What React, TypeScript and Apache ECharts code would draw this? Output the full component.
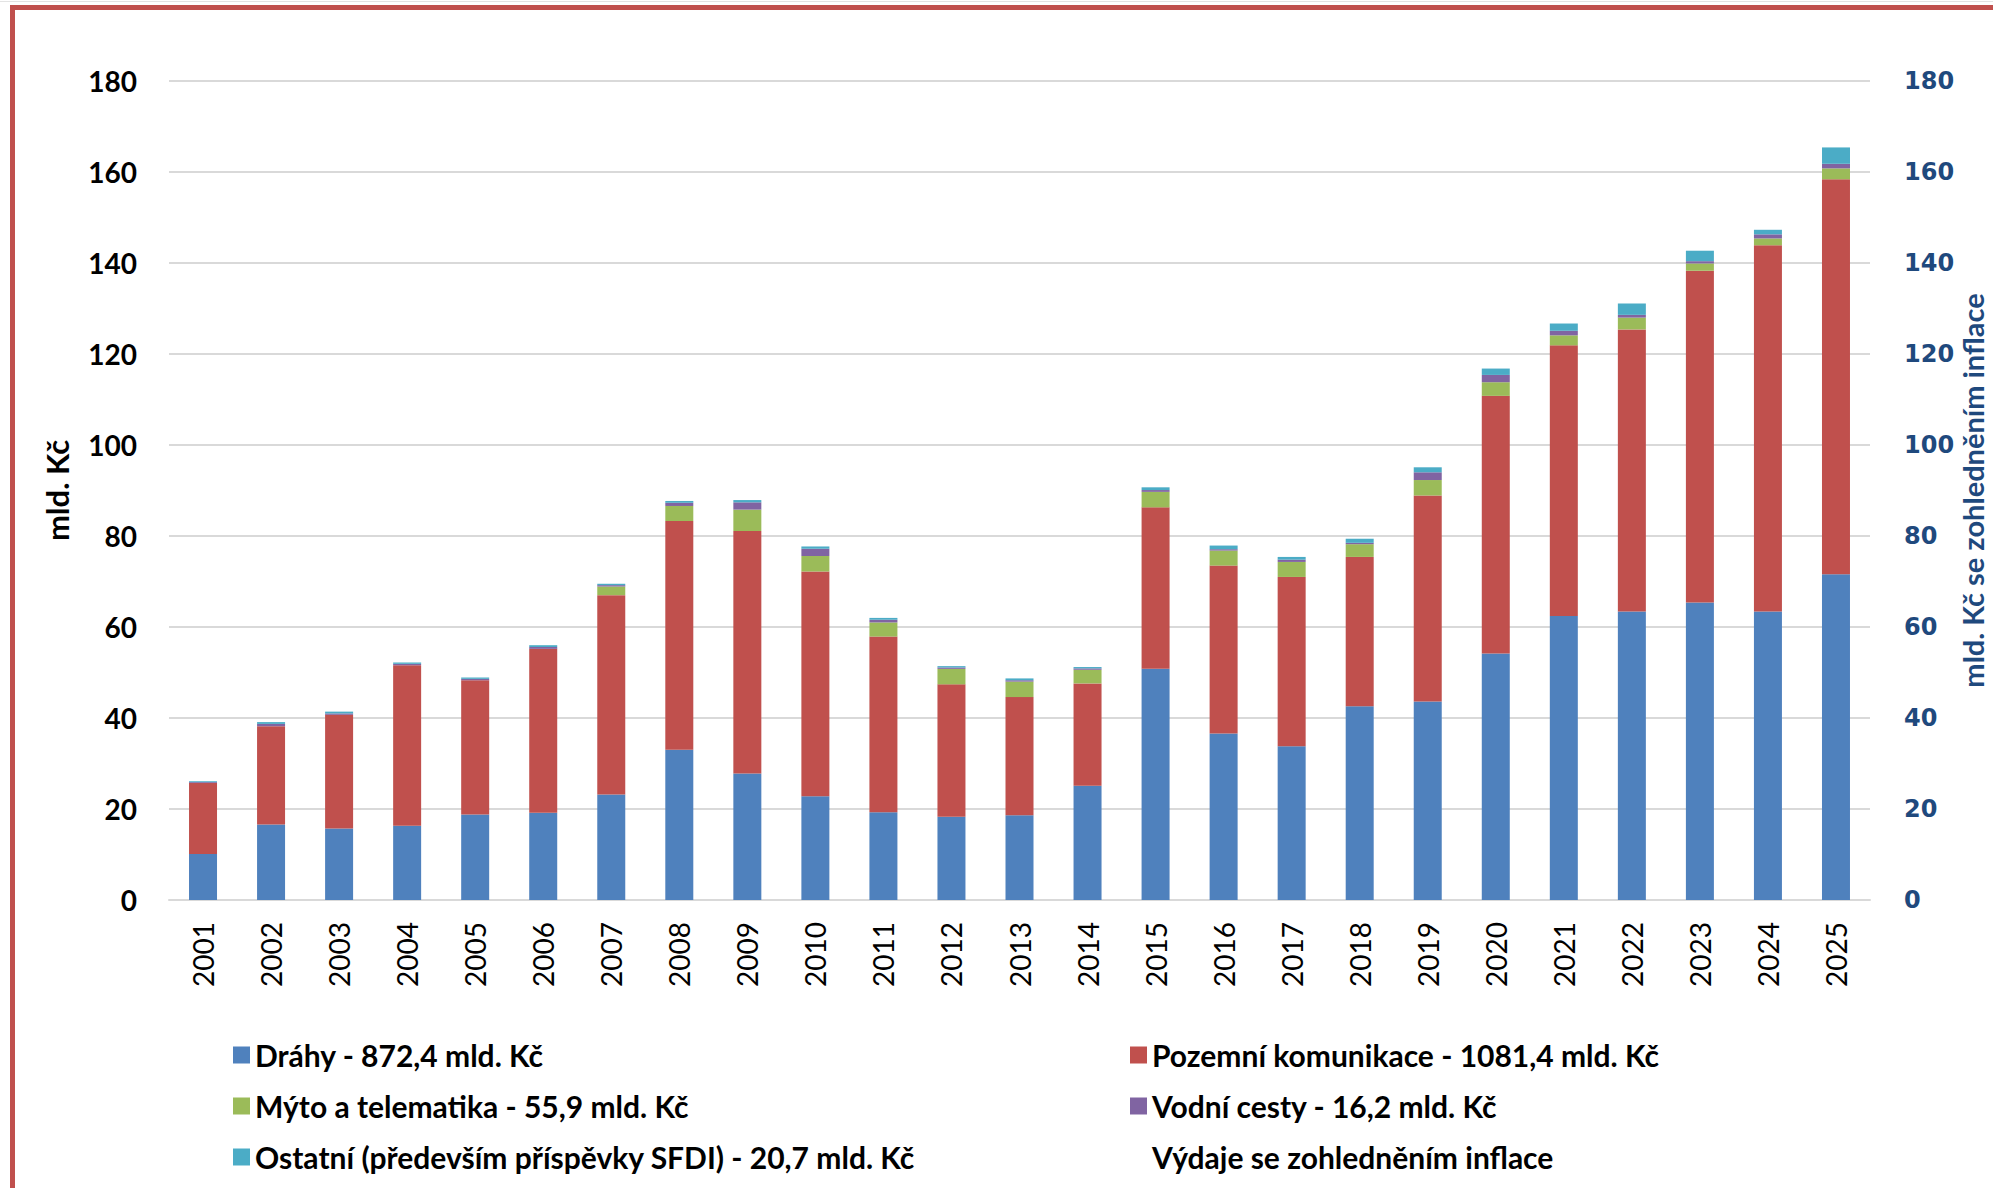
import React, { useEffect, useRef } from "react";
import * as echarts from "echarts";

const years = [
  "2001", "2002", "2003", "2004", "2005", "2006", "2007", "2008", "2009", "2010",
  "2011", "2012", "2013", "2014", "2015", "2016", "2017", "2018", "2019", "2020",
  "2021", "2022", "2023", "2024", "2025",
];

const drahy = [10.1, 16.6, 15.7, 16.3, 18.8, 19.2, 23.2, 33.0, 27.8, 22.8, 19.3, 18.3, 18.6, 25.1, 50.8, 36.6, 33.8, 42.6, 43.6, 54.2, 62.4, 63.4, 65.4, 63.4, 71.6];
const pozemni = [15.6, 21.6, 25.0, 35.3, 29.5, 36.0, 43.8, 50.3, 53.3, 49.4, 38.6, 29.1, 26.0, 22.5, 35.5, 36.9, 37.2, 32.8, 45.3, 56.6, 59.5, 62.0, 72.9, 80.5, 86.8];
const myto = [0, 0, 0, 0, 0, 0, 1.9, 3.3, 4.7, 3.4, 3.1, 3.4, 3.4, 3.0, 3.4, 3.3, 3.3, 2.8, 3.4, 3.0, 2.2, 2.6, 1.6, 1.5, 2.4];
const vodni = [0.2, 0.5, 0.3, 0.3, 0.3, 0.4, 0.3, 0.7, 1.6, 1.6, 0.6, 0.3, 0.3, 0.3, 0.4, 0.3, 0.5, 0.3, 1.7, 1.6, 1.0, 0.6, 0.5, 0.9, 1.0];
const ostatni = [0.2, 0.4, 0.4, 0.3, 0.3, 0.4, 0.3, 0.4, 0.5, 0.5, 0.4, 0.3, 0.4, 0.3, 0.6, 0.8, 0.6, 0.9, 1.1, 1.4, 1.6, 2.5, 2.3, 1.0, 3.6];
const inflace: number[] = [];

const seriesNames = [
  "Dráhy - 872,4 mld. Kč",
  "Pozemní komunikace - 1081,4 mld. Kč",
  "Mýto a telematika - 55,9 mld. Kč",
  "Vodní cesty - 16,2 mld. Kč",
  "Ostatní (především příspěvky SFDI) - 20,7 mld. Kč",
  "Výdaje se zohledněním inflace",
];

const colors = ["#4F81BD", "#C0504D", "#9BBB59", "#8064A2", "#4BACC6"];

const yMin = 0;
const yMax = 180;
const yInterval = 20;

export default function App() {
  const ref = useRef<HTMLDivElement>(null);

  useEffect(() => {
    if (!ref.current) return;
    const chart = echarts.init(ref.current, undefined, { renderer: "svg" });
    const barData = [drahy, pozemni, myto, vodni, ostatni];
    const labelFont = "Lato";
    const legendText = {
      fontFamily: labelFont,
      fontWeight: "bold" as const,
      fontSize: 30,
      color: "#000",
      lineHeight: 34,
    };
    const option: any = {
      animation: false,
      backgroundColor: "#fff",
      grid: { left: 169, right: 123, top: 81, bottom: 288, containLabel: false, outerBoundsMode: "none" },
      legend: [
        {
          orient: "vertical",
          left: 228,
          top: 1033,
          itemWidth: 17,
          itemHeight: 17,
          itemGap: 17,
          icon: "rect",
          data: [seriesNames[0], seriesNames[2], seriesNames[4]],
          textStyle: legendText,
          selectedMode: false,
        },
        {
          orient: "vertical",
          left: 1125,
          top: 1033,
          itemWidth: 17,
          itemHeight: 17,
          itemGap: 17,
          icon: "rect",
          data: [seriesNames[1], seriesNames[3], seriesNames[5]],
          textStyle: legendText,
          selectedMode: false,
        },
      ],
      xAxis: {
        type: "category",
        data: years,
        axisLine: { lineStyle: { color: "#D9D9D9", width: 2 } },
        axisTick: { show: false },
        axisLabel: {
          rotate: 90,
          margin: 22,
          fontFamily: labelFont,
          fontSize: 28,
          color: "#000",
        },
      },
      yAxis: [
        {
          type: "value",
          min: yMin,
          max: yMax,
          interval: yInterval,
          name: "mld. Kč",
          nameLocation: "middle",
          nameGap: 97,
          nameTextStyle: { fontFamily: labelFont, fontWeight: "bold", fontSize: 31, color: "#000" },
          axisLine: { show: false },
          axisTick: { show: false },
          splitLine: { lineStyle: { color: "#D9D9D9", width: 2 } },
          axisLabel: {
            margin: 32,
            fontFamily: labelFont,
            fontWeight: "bold",
            fontSize: 28,
            color: "#000",
          },
        },
        {
          type: "value",
          min: yMin,
          max: yMax,
          interval: yInterval,
          position: "right",
          name: "mld. Kč se zohledněním inflace",
          nameLocation: "middle",
          nameGap: 88,
          nameMoveOverlap: false,
          nameTextStyle: { fontFamily: labelFont, fontWeight: "bold", fontSize: 29, lineHeight: 29, color: "#1F497D" },
          axisLine: { show: false },
          axisTick: { show: false },
          splitLine: { show: false },
          axisLabel: {
            margin: 34,
            fontFamily: "DejaVu Sans",
            fontWeight: "bold",
            fontSize: 24,
            color: "#1F497D",
          },
        },
      ],
      series: [
        ...barData.map((d, i) => ({
          name: seriesNames[i],
          type: "bar",
          stack: "total",
          barWidth: 28,
          data: d,
          itemStyle: { color: colors[i] },
        })),
        {
          name: seriesNames[5],
          type: "line",
          yAxisIndex: 1,
          data: inflace,
          itemStyle: { color: "rgba(0,0,0,0)" },
          lineStyle: { color: "rgba(0,0,0,0)" },
        },
      ],
      graphic: [
        { type: "rect", shape: { x: 0, y: 1, width: 1993, height: 1 }, style: { fill: "#E3E3E3" }, silent: true },
        { type: "rect", shape: { x: 10, y: 5, width: 1983, height: 5 }, style: { fill: "#C0504D" }, silent: true },
        { type: "rect", shape: { x: 10, y: 5, width: 5, height: 1183 }, style: { fill: "#C0504D" }, silent: true },
      ],
    };
    chart.setOption(option);
    return () => chart.dispose();
  }, []);

  return (
    <div
      ref={ref}
      style={{ position: "absolute", left: 0, top: 0, width: 1993, height: 1188, background: "#fff" }}
    />
  );
}
